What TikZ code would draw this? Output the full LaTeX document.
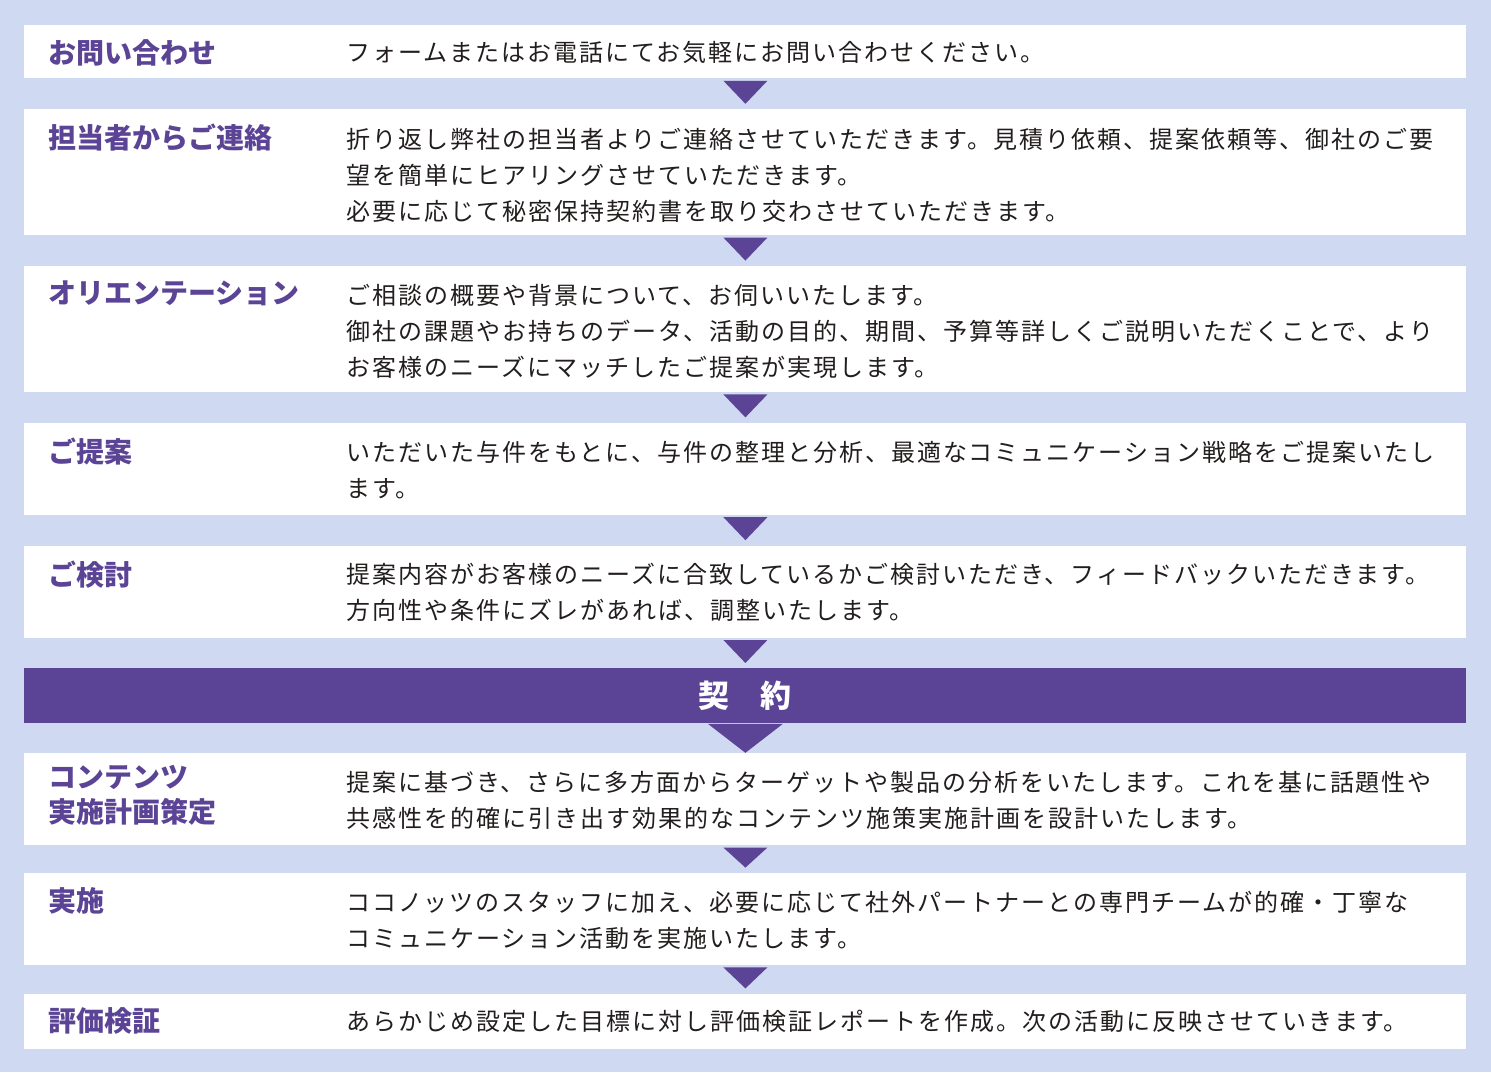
\documentclass[tikz,border=0pt]{standalone}
\usepackage{fontspec}
\setmainfont{Noto Sans CJK JP}
\usepackage{tikz}
\usetikzlibrary{positioning, calc}
\usepackage{xcolor}
\definecolor{pagebg}{RGB}{208, 217, 242}
\definecolor{flowpurple}{RGB}{91, 68, 150}
\definecolor{bodytext}{RGB}{35, 30, 30}

\begin{document}
\begin{tikzpicture}[
    node distance=15pt,
    row/.style={rectangle, fill=white, minimum width=721pt, inner sep=0pt},
    title/.style={text=flowpurple, font=\fontsize{14pt}{17.5pt}\selectfont\bfseries, align=left, inner sep=0pt},
    desc/.style={text=bodytext, font=\fontsize{12pt}{18pt}\selectfont\addfontfeatures{LetterSpace=8.3}, align=left, inner sep=0pt},
    pointer/.style={fill=flowpurple}
]
    \fill[pagebg] (0,0) rectangle (745.5pt,-536pt);

    \node[row, anchor=north west, minimum height=26.5pt] (r1) at (12pt,-12.5pt) {};
    \node[row, minimum height=63pt, below=of r1] (r2) {};
    \node[row, minimum height=63pt, below=of r2] (r3) {};
    \node[row, minimum height=46pt, below=of r3] (r4) {};
    \node[row, minimum height=46pt, below=of r4] (r5) {};
    \node[row, fill=flowpurple, minimum height=27.5pt, below=of r5, text=white, font=\fontsize{15.5pt}{18pt}\selectfont\bfseries] (k) {\raisebox{1.5pt}{契　約}};
    \node[row, minimum height=46pt, below=14.5pt of k] (r6) {};
    \node[row, minimum height=46pt, below=13.5pt of r6] (r7) {};
    \node[row, minimum height=27.5pt, below=14pt of r7] (r8) {};

    \node[title, below right=7pt and 12pt of r1.north west] (t1) {お問い合わせ};
    \node[title, below right=7.5pt and 12pt of r2.north west] (t2) {担当者からご連絡};
    \node[title, below right=7.5pt and 12pt of r3.north west] (t3) {オリエンテーション};
    \node[title, below right=7.5pt and 12pt of r4.north west] (t4) {ご提案};
    \node[title, below right=7.5pt and 12pt of r5.north west] (t5) {ご検討};
    \node[title, below right=6pt and 12pt of r6.north west] (t6) {コンテンツ\\実施計画策定};
    \node[title, below right=7.5pt and 12pt of r7.north west] (t7) {実施};
    \node[title, below right=7pt and 12pt of r8.north west] (t8) {評価検証};

    \node[desc, below right=8pt and 161pt of r1.north west] (d1) {フォームまたはお電話にてお気軽にお問い合わせください。};
    \node[desc, below right=9.5pt and 161pt of r2.north west] (d2) {折り返し弊社の担当者よりご連絡させていただきます。見積り依頼、提案依頼等、御社のご要\\望を簡単にヒアリングさせていただきます。\\必要に応じて秘密保持契約書を取り交わさせていただきます。};
    \node[desc, below right=9pt and 161pt of r3.north west] (d3) {ご相談の概要や背景について、お伺いいたします。\\御社の課題やお持ちのデータ、活動の目的、期間、予算等詳しくご説明いただくことで、より\\お客様のニーズにマッチしたご提案が実現します。};
    \node[desc, below right=9pt and 161pt of r4.north west] (d4) {いただいた与件をもとに、与件の整理と分析、最適なコミュニケーション戦略をご提案いたし\\ます。};
    \node[desc, below right=9pt and 161pt of r5.north west] (d5) {提案内容がお客様のニーズに合致しているかご検討いただき、フィードバックいただきます。\\方向性や条件にズレがあれば、調整いたします。};
    \node[desc, below right=9pt and 161pt of r6.north west] (d6) {提案に基づき、さらに多方面からターゲットや製品の分析をいたします。これを基に話題性や\\共感性を的確に引き出す効果的なコンテンツ施策実施計画を設計いたします。};
    \node[desc, below right=9pt and 161pt of r7.north west] (d7) {ココノッツのスタッフに加え、必要に応じて社外パートナーとの専門チームが的確・丁寧な\\コミュニケーション活動を実施いたします。};
    \node[desc, below right=8pt and 161pt of r8.north west] (d8) {あらかじめ設定した目標に対し評価検証レポートを作成。次の活動に反映させていきます。};

    % triangles between the steps
    \foreach \a/\b in {r1/r2, r2/r3, r3/r4, r4/r5, r5/k, r6/r7, r7/r8}
        \fill[pointer] ($(\a.south)+(-11pt,-1pt)$) -- ($(\a.south)+(11pt,-1pt)$) -- ($(\b.north)+(0,2.5pt)$) -- cycle;
    \fill[pointer] ($(k.south)+(-18.75pt,0)$) -- ($(k.south)+(18.75pt,0)$) -- (r6.north) -- cycle;
\end{tikzpicture}
\end{document}
